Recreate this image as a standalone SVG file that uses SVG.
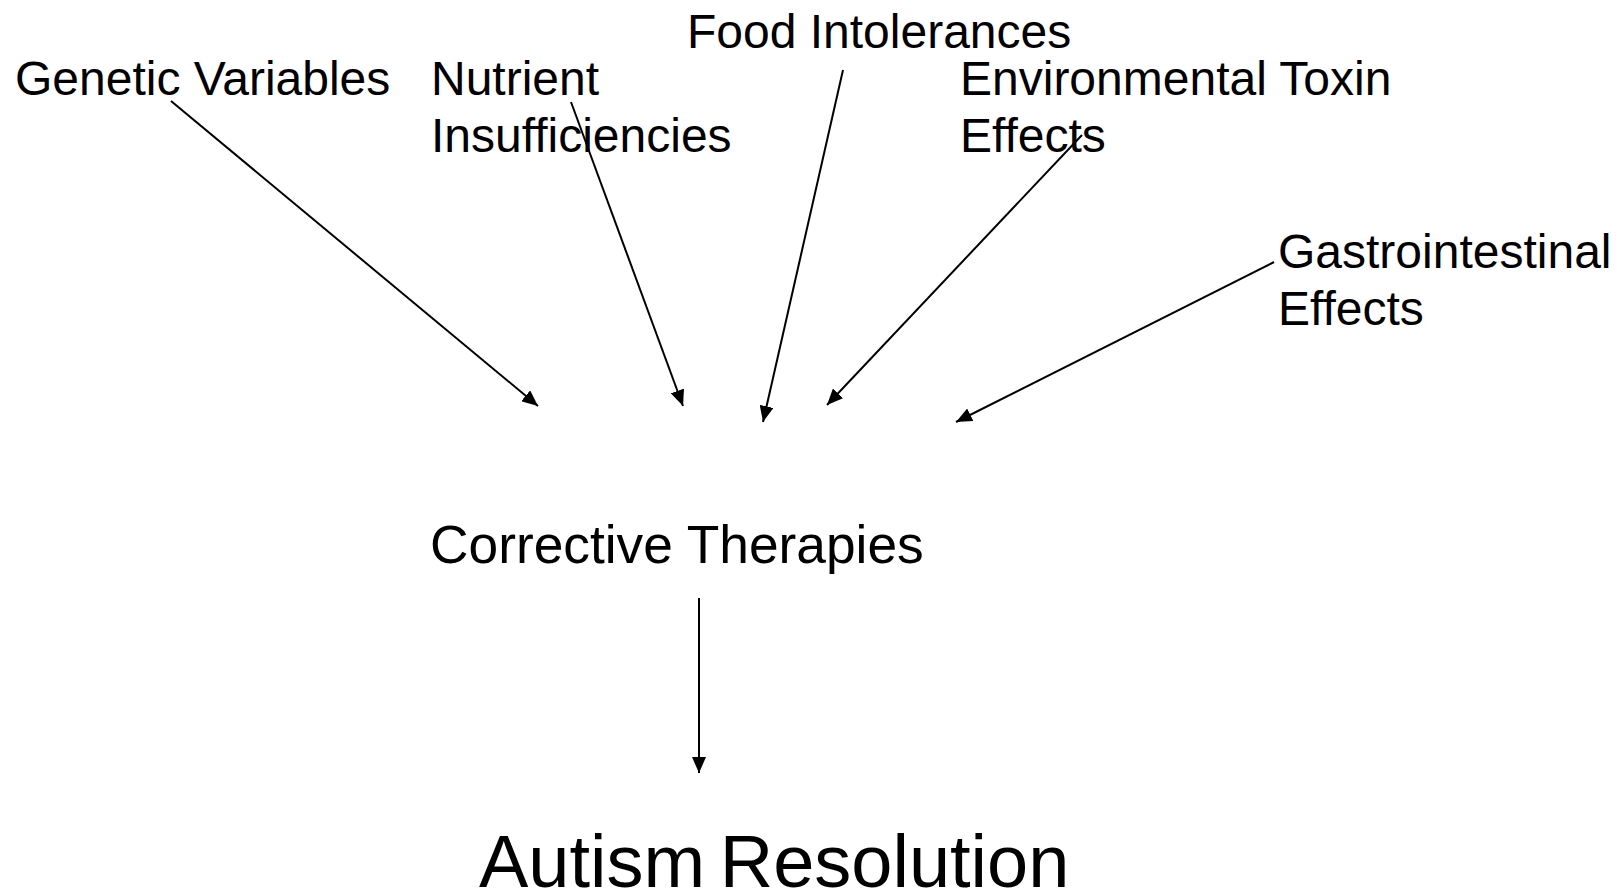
<svg xmlns="http://www.w3.org/2000/svg" width="1622" height="896" viewBox="0 0 1622 896">
  <style>
    .lbl { font-family: "Liberation Sans", Arial, sans-serif; font-size: 48px; fill: #000; }
    .mid { font-size: 53.3px; }
    .big { font-size: 74px; }
    .conn { stroke: #000; stroke-width: 2; fill: none; marker-end: url(#arrow); }
  </style>
  <defs>
    <marker id="arrow" markerUnits="userSpaceOnUse" markerWidth="16" markerHeight="14" refX="16" refY="7" orient="auto">
      <path d="M0,0 L16,7 L0,14 z" fill="#000"/>
    </marker>
  </defs>
  <rect width="1622" height="896" fill="#fff"/>

  <g id="genetic"><text class="lbl" x="15" y="95">Genetic Variables</text></g>
  <g id="nutrient">
    <text class="lbl" x="431" y="95">Nutrient</text>
    <text class="lbl" x="431" y="152">Insufficiencies</text>
  </g>
  <g id="food"><text class="lbl" x="687" y="48">Food Intolerances</text></g>
  <g id="environment">
    <text class="lbl" x="960" y="95">Environmental Toxin</text>
    <text class="lbl" x="960" y="152">Effects</text>
  </g>
  <g id="gastro">
    <text class="lbl" x="1278" y="268">Gastrointestinal</text>
    <text class="lbl" x="1278" y="325">Effects</text>
  </g>
  <g id="therapies"><text class="lbl mid" x="430" y="563">Corrective Therapies</text></g>
  <g id="resolution"><text class="lbl big" x="479" y="887" word-spacing="-6">Autism Resolution</text></g>

  <g id="connectors">
    <line class="conn" x1="171" y1="101" x2="538" y2="406"/>
    <line class="conn" x1="571" y1="102" x2="683" y2="406"/>
    <line class="conn" x1="843" y1="70" x2="763" y2="422"/>
    <line class="conn" x1="1082" y1="135" x2="827" y2="405"/>
    <line class="conn" x1="1274" y1="262" x2="956" y2="422"/>
    <line class="conn" x1="699" y1="598" x2="699" y2="773"/>
  </g>
</svg>
